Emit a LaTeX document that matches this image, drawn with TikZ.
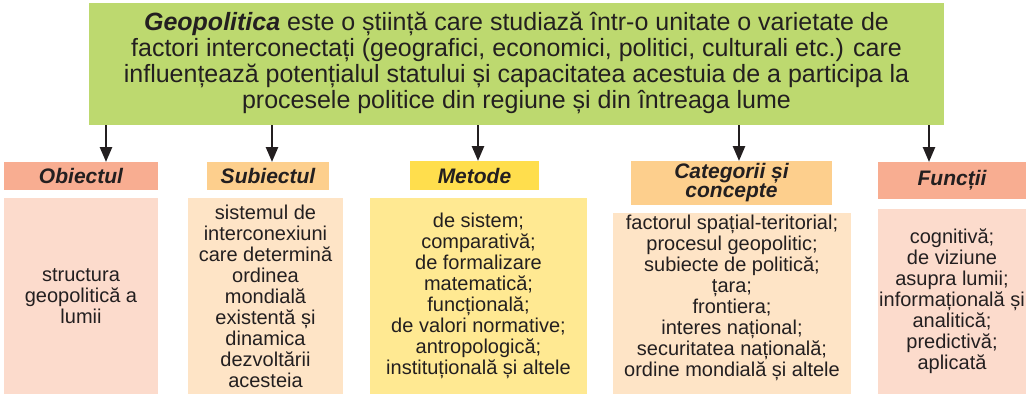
\documentclass[tikz,border=0pt]{standalone}
\usepackage{fontspec}
\setmainfont{Liberation Sans}
\usetikzlibrary{arrows.meta}
\definecolor{ink}{HTML}{231F20}
\definecolor{topgreen}{HTML}{BDD96F}
\definecolor{salmonH}{HTML}{F8AD91}
\definecolor{salmonC}{HTML}{FCDBCC}
\definecolor{peachH}{HTML}{FDCF8D}
\definecolor{peachC}{HTML}{FEE4C6}
\definecolor{yellowH}{HTML}{FFDE4D}
\definecolor{yellowC}{HTML}{FFE992}
\tikzset{
  boxbase/.style={anchor=north west, inner sep=0pt, outer sep=0pt, align=center, text=ink},
  hdr/.style={boxbase, font=\fontsize{21}{19}\selectfont\bfseries\itshape},
  cnt/.style={boxbase, font=\fontsize{20}{21}\selectfont},
  arr/.style={draw=ink, line width=2.5pt, -{Triangle[width=12pt,length=15pt]}}
}
\begin{document}
\begin{tikzpicture}[x=1pt,y=-1pt]
\useasboundingbox (0,0) rectangle (1030,394);
\node[boxbase, fill=topgreen, minimum width=855, minimum height=122, text depth=7pt,
      font=\fontsize{25}{26}\selectfont] (top) at (89,3)
 {\textbf{\textit{Geopolitica}} este o știință care studiază într-o unitate o varietate de\\
  factori interconectați (geografici, economici, politici, culturali etc.) care\\
  influențează potențialul statului și capacitatea acestuia de a participa la\\
  procesele politice din regiune și din întreaga lume};

\node[hdr, fill=salmonH, minimum width=154, minimum height=28] (h1) at (4,162) {Obiectul};
\node[hdr, fill=peachH, minimum width=122, minimum height=28] (h2) at (207,162) {Subiectul};
\node[hdr, fill=yellowH, minimum width=129, minimum height=29] (h3) at (410,161) {Metode};
\node[hdr, fill=peachH, minimum width=201, minimum height=44] (h4) at (631,161) {Categorii și\\concepte};
\node[hdr, fill=salmonH, minimum width=148, minimum height=37] (h5) at (878,162) {Funcții};

\node[cnt, fill=salmonC, minimum width=154, minimum height=196] (c1) at (4,198)
 {structura\\geopolitică a\\lumii};
\node[cnt, fill=peachC, minimum width=155, minimum height=196] (c2) at (188,198)
 {sistemul de\\interconexiuni\\care determină\\ordinea\\mondială\\existentă și\\dinamica\\dezvoltării\\acesteia};
\node[cnt, fill=yellowC, minimum width=217, minimum height=196] (c3) at (370,198)
 {de sistem;\\comparativă;\\de formalizare\\matematică;\\funcțională;\\de valori normative;\\antropologică;\\instituțională și altele};
\node[cnt, fill=peachC, minimum width=238, minimum height=181, text depth=16pt] (c4) at (613,213)
 {factorul spațial-teritorial;\\procesul geopolitic;\\subiecte de politică;\\țara;\\frontiera;\\interes național;\\securitatea națională;\\ordine mondială și altele};
\node[cnt, fill=salmonC, minimum width=148, minimum height=185] (c5) at (878,209)
 {cognitivă;\\de viziune\\asupra lumii;\\informațională și\\analitică;\\predictivă;\\aplicată};

\draw[arr] ([xshift=25pt]h1.north |- top.south) -- ([xshift=25pt]h1.north);
\draw[arr] ([xshift=4pt]h2.north |- top.south) -- ([xshift=4pt]h2.north);
\draw[arr] ([xshift=3.5pt]h3.north |- top.south) -- ([xshift=3.5pt]h3.north);
\draw[arr] ([xshift=7.5pt]h4.north |- top.south) -- ([xshift=7.5pt]h4.north);
\draw[arr] ([xshift=-23pt]h5.north |- top.south) -- ([xshift=-23pt]h5.north);
\end{tikzpicture}
\end{document}
